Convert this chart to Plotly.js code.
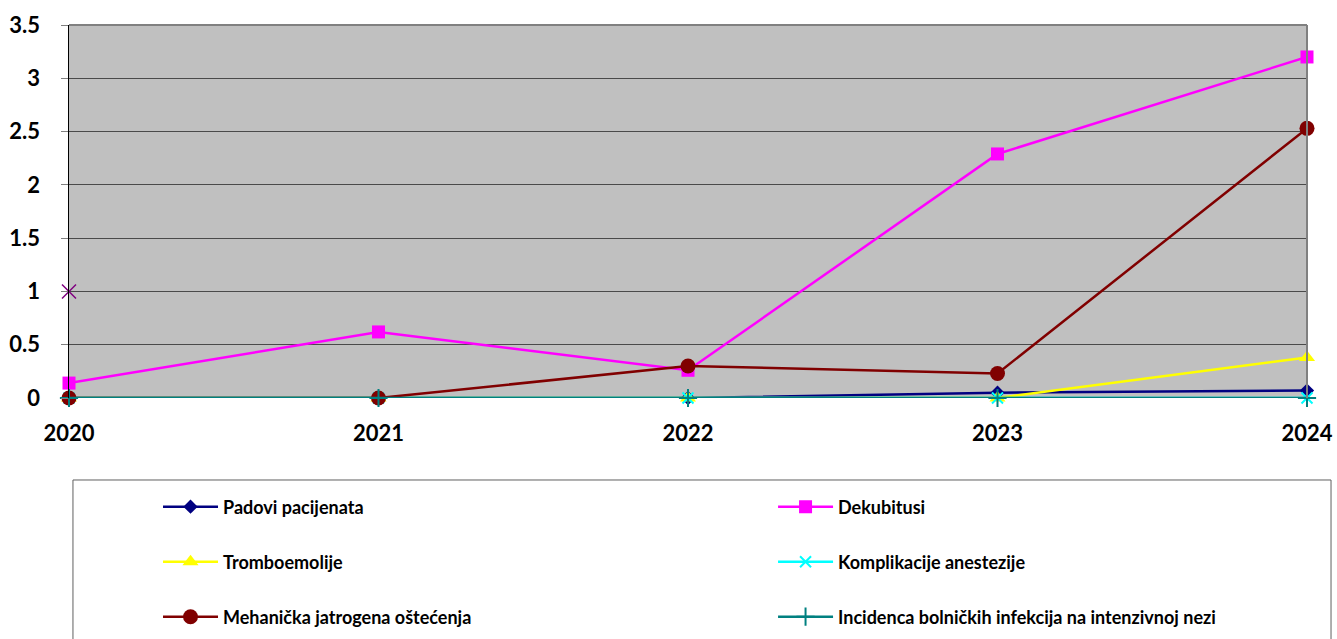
<!DOCTYPE html>
<html>
<head>
<meta charset="utf-8">
<script src="https://cdn.plot.ly/plotly-3.0.1.min.js"></script>
<style>html,body{margin:0;padding:0;background:#fff;}#chart{width:1337px;height:639px;}</style>
</head>
<body>
<div id="chart"></div>
<script>
const years = ['2020', '2021', '2022', '2023', '2024'];
const padovi = [0, 0, 0, 0.05, 0.07];
const dekubitusi = [0.14, 0.62, 0.26, 2.29, 3.2];
const tromboemolije = [0, 0, 0, 0, 0.38];
const komplikacije = [0, 0, 0, 0, 0];
const mehanicka = [0, 0, 0.3, 0.23, 2.53];
const incidenca = [0, 0, 0, 0, 0];
const ostaloX = ['2020'];
const ostaloY = [1];
const names = ['Padovi pacijenata', 'Dekubitusi', 'Tromboemolije', 'Komplikacije anestezije',
  'Mehanička jatrogena oštećenja', 'Incidenca bolničkih infekcija na intenzivnoj nezi'];
const yTicks = [0, 0.5, 1, 1.5, 2, 2.5, 3, 3.5];
const yTickText = ['0', '0.5', '1', '1.5', '2', '2.5', '3', '3.5'];

function tr(y, name, color, symbol, size, leg, mline) {
  return {
    x: years, y: y, name: name, type: 'scatter', mode: 'lines+markers',
    line: {color: color, width: 2.5},
    marker: {symbol: symbol, size: size, color: color, line: mline || {width: 0}},
    cliponaxis: false, legend: leg
  };
}
const data = [
  tr(padovi, names[0], '#000080', 'diamond', 11, 'legend'),
  tr(dekubitusi, names[1], '#FF00FF', 'square', 13, 'legend2'),
  tr(tromboemolije, names[2], '#FFFF00', 'triangle-up', 14, 'legend3'),
  tr(komplikacije, names[3], '#00FFFF', 'x-thin', 11, 'legend4', {color: '#00FFFF', width: 2}),
  tr(mehanicka, names[4], '#800000', 'circle', 15, 'legend5'),
  tr(incidenca, names[5], '#008080', 'cross-thin', 13, 'legend6', {color: '#008080', width: 2}),
  {x: ostaloX, y: ostaloY, type: 'scatter', mode: 'markers', showlegend: false, cliponaxis: false,
   marker: {symbol: 'x-thin', size: 14, color: '#800080', line: {color: '#800080', width: 1.5}}}
];

const legFont = {family: 'Lato, sans-serif', size: 18, color: '#000', weight: 'bold'};
function leg(x, y) {
  return {x: x, y: y, xanchor: 'left', yanchor: 'middle', bgcolor: 'rgba(0,0,0,0)',
    borderwidth: 0, font: legFont, itemwidth: 55};
}
const c1 = 0.0719, c2 = 0.5687;
const r1 = -0.2922, r2 = -0.4397, r3 = -0.5871;

const layout = {
  width: 1337, height: 639,
  margin: {l: 69, r: 30, t: 25, b: 241, autoexpand: false},
  paper_bgcolor: '#FFFFFF', plot_bgcolor: '#C0C0C0',
  showlegend: true,
  font: {family: 'Lato, sans-serif', color: '#000'},
  xaxis: {
    type: 'category', range: [0, 4], showgrid: false, zeroline: false, showline: false,
    ticks: '', ticklabelstandoff: 20,
    tickfont: {family: 'Lato, sans-serif', size: 22, weight: 'bold', color: '#000'}
  },
  yaxis: {
    range: [0, 3.5], tickvals: yTicks, ticktext: yTickText,
    showgrid: true, gridcolor: '#4a4a4a', gridwidth: 1, zeroline: false,
    showline: true, linecolor: '#000', linewidth: 1.5,
    ticks: 'outside', ticklen: 7, tickcolor: '#808080', ticklabelstandoff: 16,
    tickfont: {family: 'Lato, sans-serif', size: 22, weight: 'bold', color: '#000'}
  },
  legend: leg(c1, r1), legend2: leg(c2, r1),
  legend3: leg(c1, r2), legend4: leg(c2, r2),
  legend5: leg(c1, r3), legend6: leg(c2, r3),
  shapes: [
    {type: 'line', xref: 'paper', yref: 'paper', x0: 0, x1: 1, y0: 1, y1: 1, line: {color: '#808080', width: 2}},
    {type: 'line', xref: 'paper', yref: 'paper', x0: 1, x1: 1, y0: 0, y1: 1, line: {color: '#808080', width: 2}},
    {type: 'rect', xref: 'paper', yref: 'paper', x0: 0.0032, x1: 1.0194, y0: -0.2198, y1: -0.70,
     line: {color: '#606060', width: 1}, fillcolor: 'rgba(0,0,0,0)'}
  ]
};

Plotly.newPlot('chart', data, layout, {displayModeBar: false, staticPlot: true});
</script>
</body>
</html>
